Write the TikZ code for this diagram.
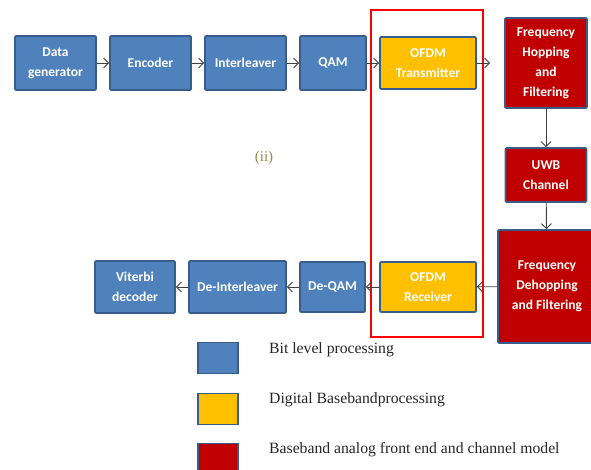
\documentclass[tikz,border=0pt]{standalone}
\usepackage{fontspec}
\setmainfont{Liberation Serif}
\newfontfamily\boxfont{Carlito}
\usetikzlibrary{arrows.meta}
\definecolor{bitblue}{RGB}{79,129,189}
\definecolor{edgeblue}{RGB}{56,93,138}
\definecolor{digyellow}{RGB}{255,192,0}
\definecolor{anred}{RGB}{192,0,0}
\definecolor{olivetxt}{RGB}{148,138,84}
\definecolor{arrowgray}{RGB}{64,64,64}
\begin{document}
\begin{tikzpicture}[x=1pt,y=-1pt,
  blk/.style={draw=edgeblue,line width=1.6pt,rounded corners=1pt,text=white,
    font=\boxfont\bfseries\fontsize{13.5}{20}\selectfont,align=center,inner sep=0pt},
  bitbox/.style={blk,fill=bitblue},
  digbox/.style={blk,fill=digyellow},
  redbox/.style={blk,fill=anred},
  conn/.style={draw=arrowgray,line width=0.9pt,-{Straight Barb[length=5pt,width=10pt]}},
  legbox/.style={draw=edgeblue,line width=1.6pt,minimum width=40pt,minimum height=31pt,inner sep=0pt},
  legtxt/.style={anchor=west,font=\fontsize{15.7}{18}\selectfont,inner sep=0pt,text=black!85}]
\useasboundingbox (0,0) rectangle (591,470);
% top row
\node[bitbox,minimum width=81pt,minimum height=54pt] (data) at (55.5,63) {Data\\generator};
\node[bitbox,minimum width=81pt,minimum height=54pt] (enc) at (150.5,63) {Encoder};
\node[bitbox,minimum width=81pt,minimum height=54pt] (intl) at (245.5,63) {Interleaver};
\node[bitbox,minimum width=66pt,minimum height=54pt] (qam) at (333,63) {QAM};
\node[digbox,minimum width=96pt,minimum height=52pt] (tx) at (428,63) {OFDM\\Transmitter};
\node[redbox,minimum width=82pt,minimum height=90pt] (fh) at (546,63) {Frequency\\Hopping\\and\\Filtering};
\node[redbox,minimum width=81pt,minimum height=54pt] (uwb) at (546,175) {UWB\\Channel};
\node[redbox,minimum width=98pt,minimum height=113pt] (fd) at (547,286.5) {Frequency\\Dehopping\\and Filtering};
% bottom row
\node[digbox,minimum width=96pt,minimum height=50pt] (rx) at (428,287) {OFDM\\Receiver};
\node[bitbox,minimum width=65pt,minimum height=50pt] (dqam) at (332.5,287) {De-QAM};
\node[bitbox,minimum width=97pt,minimum height=52pt] (dint) at (237.5,287) {De-Interleaver};
\node[bitbox,minimum width=80pt,minimum height=52pt] (vit) at (135,287) {Viterbi\\decoder};
% red frame
\node[draw=red,line width=2pt,minimum width=112pt,minimum height=327pt,inner sep=0pt] (frame) at (427,173.5) {};
% label
\node[text=olivetxt,font=\fontsize{15}{17}\selectfont] (lab) at (264,158) {(ii)};
% connectors
\draw[conn] (data) -- (enc);
\draw[conn] (enc) -- (intl);
\draw[conn] (intl) -- (qam);
\draw[conn] (qam) -- (tx);
\draw[conn,shorten >=14pt] (tx) -- (fh);
\draw[conn] (fh) -- (uwb);
\draw[conn] (uwb) -- (fd);
\draw[conn] (fd) -- (rx);
\draw[conn] (rx) -- (dqam);
\draw[conn] (dqam) -- (dint);
\draw[conn] (dint) -- (vit);
% legend
\node[legbox,fill=bitblue] (lb1) at (218,358) {};
\node[legbox,fill=digyellow] (lb2) at (218,409) {};
\node[legbox,fill=anred] (lb3) at (218,459) {};
\node[legtxt] (lt1) at (269,350) {Bit level processing};
\node[legtxt] (lt2) at (269,400) {Digital Basebandprocessing};
\node[legtxt] (lt3) at (269,450) {Baseband analog front end and channel model};
\end{tikzpicture}
\end{document}
